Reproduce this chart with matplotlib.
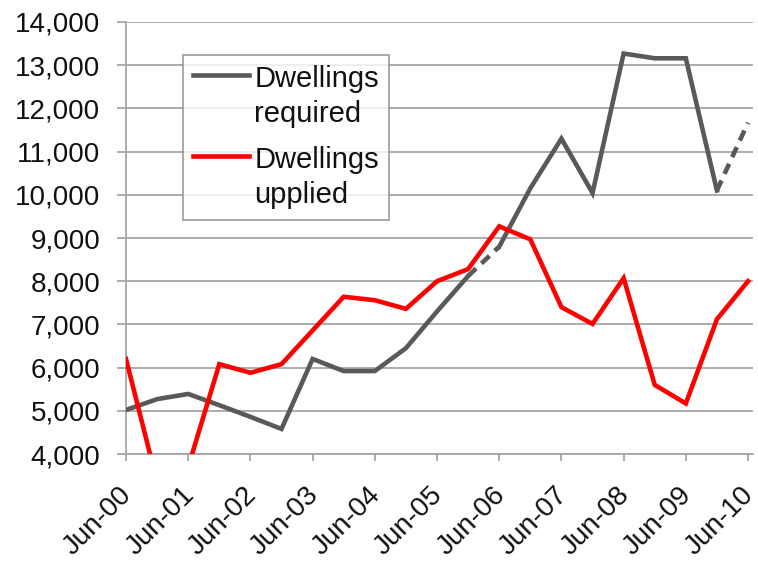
import matplotlib
matplotlib.use("Agg")
import matplotlib.pyplot as plt
from matplotlib.ticker import FuncFormatter, MultipleLocator
from matplotlib.legend_handler import HandlerLine2D
from matplotlib.transforms import ScaledTranslation
import numpy as np

plt.rcParams['font.family'] = ['Liberation Sans', 'DejaVu Sans']

# Half-yearly observations, Jun-00 .. Jun-10
periods = ["Jun-00", "Dec-00", "Jun-01", "Dec-01", "Jun-02", "Dec-02", "Jun-03",
           "Dec-03", "Jun-04", "Dec-04", "Jun-05", "Dec-05", "Jun-06", "Dec-06",
           "Jun-07", "Dec-07", "Jun-08", "Dec-08", "Jun-09", "Dec-09", "Jun-10"]
dwellings_required = [5020, 5270, 5390, 5130, 4860, 4580, 6200, 5920, 5920, 6450,
                      7300, 8120, 8800, 10150, 11300, 10040, 13270, 13160, 13160,
                      10100, 11670]
dwellings_supplied = [6200, 3350, 3700, 6080, 5880, 6080, 6860, 7640, 7560, 7360,
                      8000, 8280, 9270, 8970, 7400, 7010, 8070, 5600, 5170,
                      7120, 8000]
# segments of the required series drawn dashed: (start, end) indices
dashed_segments = [(11, 12), (19, 20)]
tick_labels = ["Jun-00", "Jun-01", "Jun-02", "Jun-03", "Jun-04", "Jun-05",
               "Jun-06", "Jun-07", "Jun-08", "Jun-09", "Jun-10"]

GRAY = "#595959"
RED = "#ff0000"
GRID = "#a6a6a6"
TEXT = "#111111"

fig = plt.figure(figsize=(7.58, 5.62), dpi=100)
ax = fig.add_axes([126 / 758, 1 - 454 / 562, 627 / 758, 432 / 562])

x = np.arange(len(periods))
req = np.array(dwellings_required, dtype=float)
sup = np.array(dwellings_supplied, dtype=float)

# solid runs of the required series, between the dashed segments
starts = [0] + [b for a, b in dashed_segments]
ends = [a for a, b in dashed_segments] + [len(req) - 1]
first = True
for s, e in zip(starts, ends):
    if e > s:
        ax.plot(x[s:e + 1], req[s:e + 1], color=GRAY, lw=3.3,
                solid_joinstyle='miter',
                label="Dwellings\nrequired" if first else None, zorder=3)
        first = False
for a, b in dashed_segments:
    ax.plot(x[a:b + 1], req[a:b + 1], color=GRAY, lw=3.3, dashes=(2.4, 1.6),
            zorder=3)

ax.plot(x, sup, color=RED, lw=3.3, solid_joinstyle='miter',
        label="Dwellings\nupplied", zorder=4)

ax.set_xlim(0, 20.16)
ax.set_ylim(4000, 14000)
ax.yaxis.set_major_locator(MultipleLocator(1000))
ax.yaxis.set_major_formatter(FuncFormatter(lambda v, p: f"{int(v):,}"))
ax.set_xticks(x[::2])
ax.set_xticklabels(tick_labels, rotation=45, ha='right', va='center',
                   rotation_mode='anchor')

ax.grid(axis='y', color=GRID, lw=1.3)
ax.set_axisbelow(True)
for side in ('top', 'right'):
    ax.spines[side].set_visible(False)
for side in ('left', 'bottom'):
    ax.spines[side].set_color(GRID)
    ax.spines[side].set_linewidth(1.3)

ax.tick_params(axis='y', length=6.5, width=1.3, color=GRID, pad=12,
               labelsize=20, labelcolor=TEXT)
ax.tick_params(axis='x', length=5, width=1.3, color=GRID, pad=22,
               labelsize=20, labelcolor=TEXT)

# nudge the slanted date labels a little to the right of their ticks
nudge = ScaledTranslation(2 / 100, 0, fig.dpi_scale_trans)
for tick in ax.xaxis.get_major_ticks():
    tick.label1.set_transform(tick.label1.get_transform() + nudge)


class FirstLineHandler(HandlerLine2D):
    """Align the legend line with the first row of a two-row label."""
    def create_artists(self, legend, orig_handle, xdescent, ydescent,
                       width, height, fontsize, trans):
        arts = super().create_artists(legend, orig_handle, xdescent, ydescent,
                                      width, height, fontsize, trans)
        for a in arts:
            a.set_ydata(np.asarray(a.get_ydata()) + 0.78 * fontsize)
        return arts


handles, labels = ax.get_legend_handles_labels()
leg = ax.legend(handles, labels, loc='upper left',
                bbox_to_anchor=((183 - 126) / 627, (454 - 55) / 432),
                borderaxespad=0, fontsize=21, frameon=True, fancybox=False,
                edgecolor='#8c8c8c', handlelength=1.9, handletextpad=0.2,
                labelspacing=0.62, borderpad=0.35,
                handler_map={h: FirstLineHandler() for h in handles})
leg.get_frame().set_linewidth(1.3)
for t in leg.get_texts():
    t.set_linespacing(1.32)
    t.set_color(TEXT)

fig.savefig("out.png", dpi=100)
